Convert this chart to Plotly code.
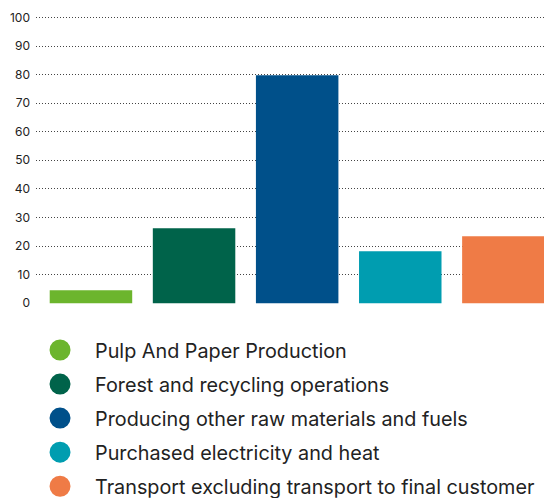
import plotly.graph_objects as go

categories = ["Pulp And Paper Production", "Forest and recycling operations",
              "Producing other raw materials and fuels", "Purchased electricity and heat",
              "Transport excluding transport to final customer"]
values = [4.5, 26.2, 79.8, 18.2, 23.4]
colors = ["#6CB52D", "#00634A", "#00508A", "#009DB0", "#EF7B46"]
y_ticks = list(range(0, 101, 10))

FONT = "Inter"
fig = go.Figure()
for i, (name, v, c) in enumerate(zip(categories, values, colors)):
    fig.add_trace(go.Bar(x=[i], y=[v], width=0.8, marker=dict(color=c, line=dict(width=0)),
                         name=name, showlegend=False, hoverinfo="y"))
    fig.add_trace(go.Scatter(x=[None], y=[None], mode="markers", name=name, legendgroup=name,
                             marker=dict(symbol="circle", size=16, color=c,
                                         line=dict(color=c, width=5))))

fig.update_layout(
    width=544, height=498,
    margin=dict(l=36, r=0, t=16, b=194, autoexpand=False),
    plot_bgcolor="white", paper_bgcolor="white",
    barmode="overlay",
    font=dict(family=FONT, color="#222"),
    xaxis=dict(range=[-0.533, 4.394], showticklabels=False, showgrid=False,
               zeroline=False, showline=False, ticks=""),
    yaxis=dict(range=[-0.3, 100.5], tickvals=y_ticks, showgrid=True, gridcolor="#444",
               griddash="1px,2px", gridwidth=1, zeroline=False, showline=False,
               tickfont=dict(size=12, color="#222", family=FONT), ticklabelstandoff=5),
    legend=dict(xref="container", yref="container", x=0.046, y=0.336,
                xanchor="left", yanchor="top",
                font=dict(size=19.8, color="#222", family=FONT),
                itemwidth=60, tracegroupgap=5.3, bgcolor="rgba(0,0,0,0)"),
)
fig.write_html("out.html", config={"displayModeBar": False},
               post_script="document.body.style.margin='0px';")
